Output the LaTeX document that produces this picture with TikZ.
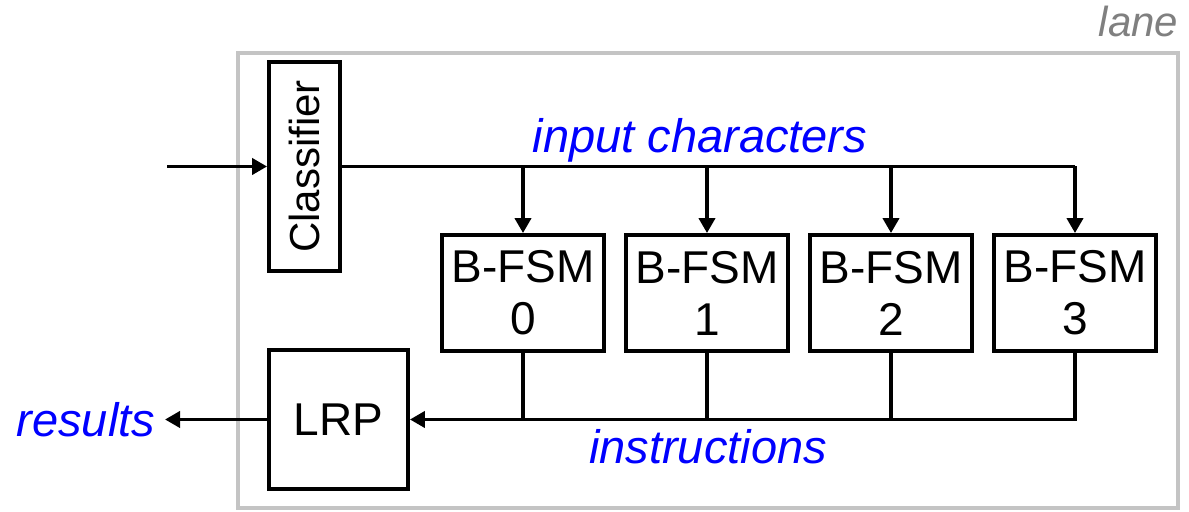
\documentclass[tikz,border=0pt]{standalone}
\usepackage{fontspec}
\setmainfont{Liberation Sans}
\usetikzlibrary{arrows.meta}

\begin{document}
\begin{tikzpicture}[x=0.5pt,y=0.5pt,line width=1.9pt,
  >={Triangle[length=7.5pt,width=8pt]},
  box/.style={draw,line width=1.9pt,inner sep=0pt,align=center,
    font=\fontsize{23}{26}\selectfont},
  fsm/.style={box,minimum width=81pt,minimum height=58pt},
  note/.style={inner sep=0pt,text=blue,font=\fontsize{23.5}{26}\selectfont\itshape}]
\useasboundingbox (0,0) rectangle (1189,512);
% the lane frame
\draw[line width=2.4pt,black!23] (238,4) rectangle (1178,459);
\path
(1180,475) node[anchor=base east,inner sep=0pt,text=black!50,
  font=\fontsize{21}{24}\selectfont\itshape] (lane) {lane}
(304.5,345.5) node[box,minimum width=35.5pt,minimum height=104.5pt,
  font=\fontsize{21}{24}\selectfont] (cls) {\rotatebox{90}{Classifier}}
(167,345.5) coordinate (in)
(523,219) node[fsm] (b0) {B-FSM\\0}
(707,219) node[fsm] (b1) {B-FSM\\1}
(891,219) node[fsm] (b2) {B-FSM\\2}
(1075,219) node[fsm] (b3) {B-FSM\\3}
(338.5,92.5) node[box,minimum size=69.5pt] (lrp) {LRP}
(165,92.5) coordinate (out)
(700,359) node[note,anchor=base] (chars) {input characters}
(708,48) node[note,anchor=base] (instr) {instructions};
%\draw[->] (cls.east) to node[above] {input characters} (b3.north);
\draw[->] (in) -- (cls.west);
\draw (cls.east) -- (cls.east -| b3.north);
\draw[->] (cls.east -| b0.north) -- (b0.north);
\draw[->] (cls.east -| b1.north) -- (b1.north);
\draw[->] (cls.east -| b2.north) -- (b2.north);
\draw[->] (cls.east -| b3.north) -- (b3.north);
% results bus back to the LRP
\draw[->] (b3.south) |- (lrp.east);
\draw (b0.south) -- (b0.south |- lrp.east);
\draw (b1.south) -- (b1.south |- lrp.east);
\draw (b2.south) -- (b2.south |- lrp.east);
\draw[->] (lrp.west) -- (out) node[note,anchor=east,xshift=-4pt] (res) {results};
\end{tikzpicture}
\end{document}
